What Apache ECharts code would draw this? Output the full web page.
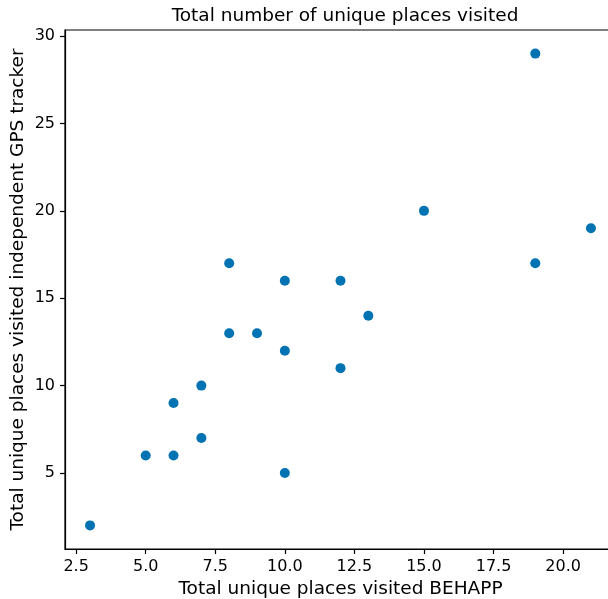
<!DOCTYPE html>
<html><head><meta charset="utf-8">
<script src="https://cdn.jsdelivr.net/npm/echarts@6/dist/echarts.min.js"></script>
<style>html,body{margin:0;padding:0;background:#fff;overflow:hidden}#c{width:608px;height:599px}</style>
</head><body><div id="c"></div>
<script>
var behapp = [3, 5, 6, 6, 7, 7, 8, 8, 9, 10, 10, 10, 12, 12, 13, 15, 19, 19, 21];
var gps    = [2, 6, 6, 9, 7, 10, 13, 17, 13, 5, 12, 16, 16, 11, 14, 20, 29, 17, 19];
var xTicks = [2.5, 5.0, 7.5, 10.0, 12.5, 15.0, 17.5, 20.0];
var yTicks = [5, 10, 15, 20, 25, 30];
var titleText = 'Total number of unique places visited';
var xName = 'Total unique places visited BEHAPP';
var yName = 'Total unique places visited independent GPS tracker';

var pts = behapp.map(function(v, i){ return [v, gps[i]]; });
var font = 'DejaVu Sans';
var chart = echarts.init(document.getElementById('c'), null, {renderer:'canvas'});
chart.setOption({
  animation:false,
  title:{text:titleText, left:340, textAlign:'center', top:2, textStyle:{fontFamily:font, fontSize:18.5, fontWeight:'normal', color:'#000'}},
  grid:{left:65, top:30, width:551, height:519, outerBoundsMode:'none', containLabel:false, show:true, borderColor:'#000', borderWidth:1.2, backgroundColor:'transparent'},
  xAxis:{type:'value', min:2.1, max:21.9,
    name:xName, nameLocation:'middle', nameGap:31, nameMoveOverlap:false, nameTextStyle:{fontFamily:font, fontSize:18.5, color:'#000'},
    axisLine:{show:true, lineStyle:{color:'#000', width:1.2}},
    axisTick:{show:true, length:5, inside:false, customValues:xTicks, lineStyle:{color:'#000', width:1.2}},
    axisLabel:{customValues:xTicks, fontFamily:font, fontSize:16, color:'#000', margin:10, formatter:function(v){return v.toFixed(1);}},
    splitLine:{show:false}},
  yAxis:{type:'value', min:0.65, max:30.35,
    name:yName, nameLocation:'middle', nameGap:37, nameMoveOverlap:false, nameRotate:90, nameTextStyle:{fontFamily:font, fontSize:18.5, color:'#000'},
    axisLine:{show:true, lineStyle:{color:'#000', width:1.2}},
    axisTick:{show:true, length:5, inside:false, customValues:yTicks, lineStyle:{color:'#000', width:1.2}},
    axisLabel:{customValues:yTicks, fontFamily:font, fontSize:16, color:'#000', margin:10, formatter:function(v){return String(v);}},
    splitLine:{show:false}},
  series:[{type:'scatter', data:pts, symbolSize:10, itemStyle:{color:'#0173B2', opacity:1}}]
});
</script></body></html>
